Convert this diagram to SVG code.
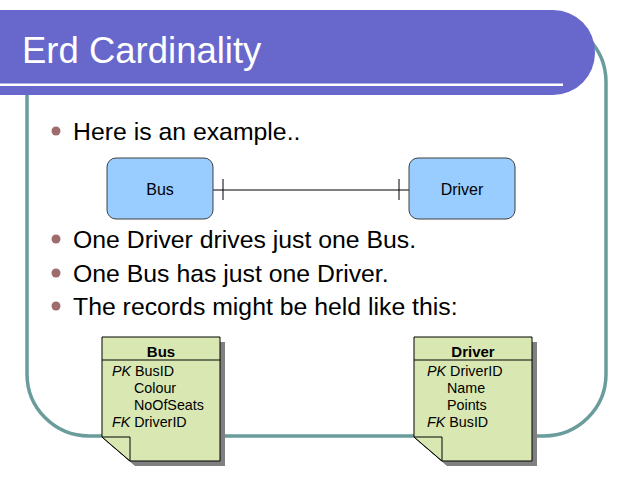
<svg xmlns="http://www.w3.org/2000/svg" width="638" height="479" viewBox="0 0 638 479">
<defs>
<style>
.bul{font-family:"Liberation Sans",Arial,sans-serif;font-size:24.8px;fill:#000}
.dot{fill:#9E6C6C}
.ent{fill:#99CCFF;stroke:#404040;stroke-width:1}
.entt{font-family:"Liberation Sans",Arial,sans-serif;font-size:16px;fill:#000;text-anchor:middle}
.tbl{fill:#D9E8B2;stroke:#000;stroke-width:1}
.shd{fill:#808080}
.th{font-family:"Liberation Sans",Arial,sans-serif;font-size:15px;font-weight:bold;fill:#000;text-anchor:middle}
.tr{font-family:"Liberation Sans",Arial,sans-serif;font-size:14.3px;fill:#000}
.it{font-style:italic}
.con{stroke:#000;stroke-width:1;fill:none}
</style>
</defs>
<rect width="638" height="479" fill="#fff"/>
<rect x="27" y="20" width="579" height="416" rx="62" ry="62" fill="none" stroke="#6A9C9C" stroke-width="3.5"/>
<g id="title">
<rect x="-60" y="10" width="655" height="85" rx="42" ry="42" fill="#6767CC"/>
<rect x="0" y="83.5" width="563" height="2.5" fill="#fff"/>
<text x="22" y="63" font-family="'Liberation Sans',Arial,sans-serif" font-size="36.5" fill="#fff">Erd Cardinality</text>
</g>
<g id="bullets">
<circle class="dot" cx="56" cy="131" r="4.5"/>
<text class="bul" x="73" y="140">Here is an example..</text>
<circle class="dot" cx="56" cy="239" r="4.5"/>
<text class="bul" x="73" y="248">One Driver drives just one Bus.</text>
<circle class="dot" cx="56" cy="273" r="4.5"/>
<text class="bul" x="73" y="282">One Bus has just one Driver.</text>
<circle class="dot" cx="56" cy="306" r="4.5"/>
<text class="bul" x="73" y="315">The records might be held like this:</text>
</g>
<g id="connectors">
<line class="con" x1="213" y1="190" x2="409" y2="190"/>
<line class="con" x1="223" y1="179" x2="223" y2="200"/>
<line class="con" x1="399" y1="179" x2="399" y2="200"/>
</g>
<g id="bus-entity">
<rect class="ent" x="107" y="158" width="106" height="61" rx="9" ry="9"/>
<text class="entt" x="160" y="195">Bus</text>
</g>
<g id="driver-entity">
<rect class="ent" x="409" y="158" width="106" height="61" rx="9" ry="9"/>
<text class="entt" x="462" y="195">Driver</text>
</g>
<g id="bus-table">
<polygon class="shd" points="107,342 225,342 225,466 135,466 107,442"/>
<polygon class="tbl" points="102,337 220,337 220,461 130,461 102,437"/>
<polygon class="tbl" points="102,437 130,437 130,461"/>
<line class="con" x1="102" y1="360" x2="220" y2="360"/>
<text class="th" x="161" y="357">Bus</text>
<text class="tr" x="112" y="376"><tspan class="it">PK</tspan> BusID</text>
<text class="tr" x="134" y="393">Colour</text>
<text class="tr" x="134" y="410">NoOfSeats</text>
<text class="tr" x="112" y="427"><tspan class="it">FK</tspan> DriverID</text>
</g>
<g id="driver-table">
<polygon class="shd" points="419,342 537,342 537,466 447,466 419,442"/>
<polygon class="tbl" points="414,337 532,337 532,461 442,461 414,437"/>
<polygon class="tbl" points="414,437 442,437 442,461"/>
<line class="con" x1="414" y1="360" x2="532" y2="360"/>
<text class="th" x="473" y="357">Driver</text>
<text class="tr" x="427" y="376"><tspan class="it">PK</tspan> DriverID</text>
<text class="tr" x="447" y="393">Name</text>
<text class="tr" x="447" y="410">Points</text>
<text class="tr" x="427" y="427"><tspan class="it">FK</tspan> BusID</text>
</g>
</svg>
